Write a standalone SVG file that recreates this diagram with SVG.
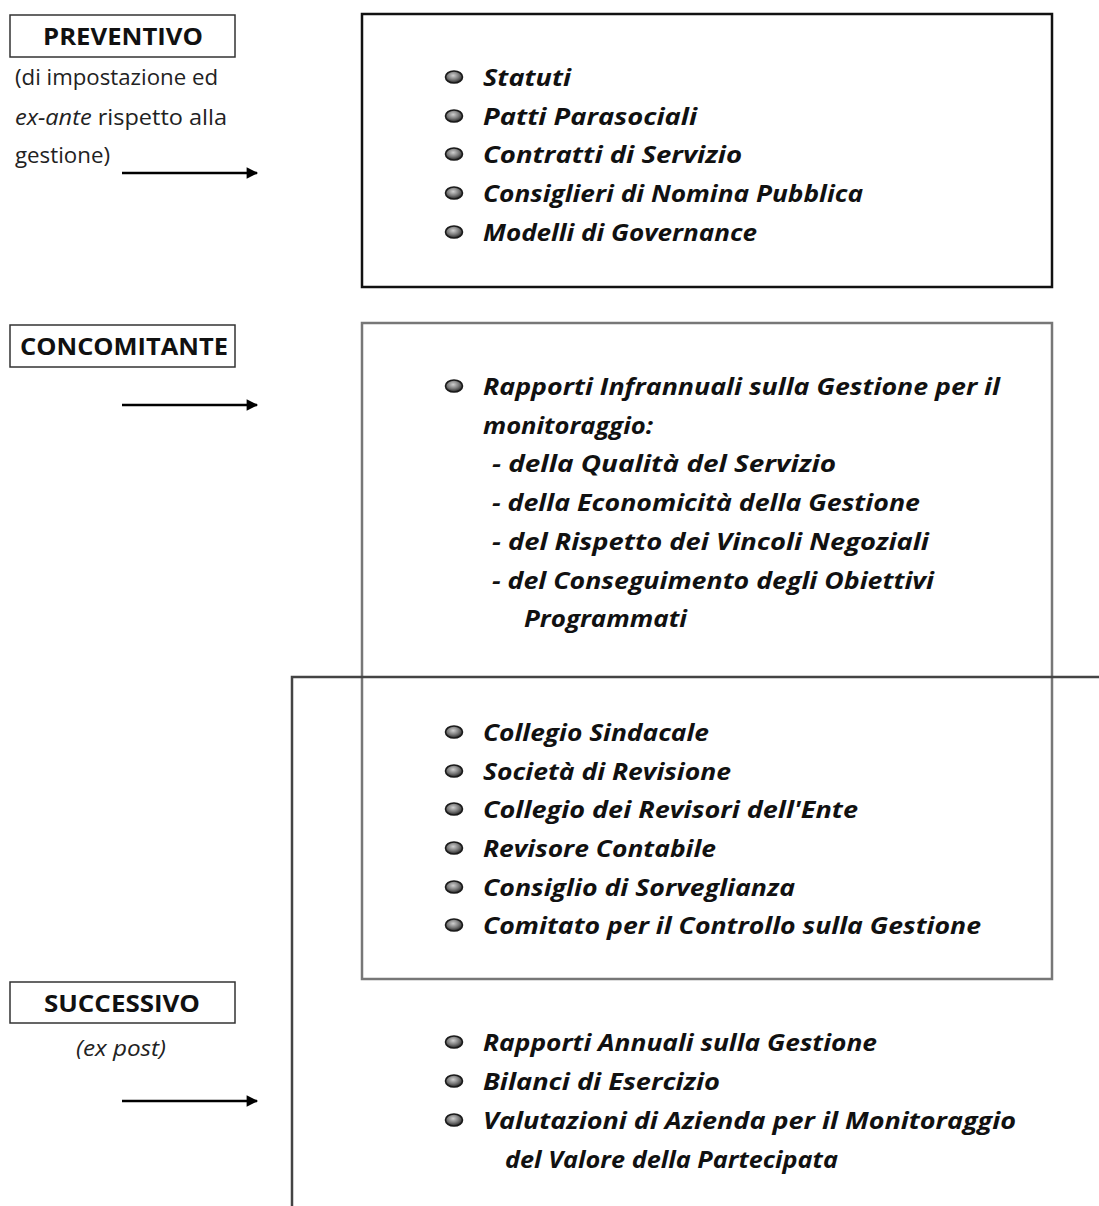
<svg xmlns="http://www.w3.org/2000/svg" width="1099" height="1206" viewBox="0 0 1099 1206">
  <defs>
    <radialGradient id="bulletFill" cx="0.45" cy="0.38" r="0.62">
      <stop offset="0" stop-color="#cfcfcf"/>
      <stop offset="0.55" stop-color="#7a7a7a"/>
      <stop offset="1" stop-color="#262626"/>
    </radialGradient>
    <marker id="arrowHead" viewBox="0 0 10 10" refX="9" refY="5" markerWidth="5.4" markerHeight="4.6" markerUnits="strokeWidth" orient="auto">
      <path d="M0,0 L10,5 L0,10 z" fill="#000"/>
    </marker>
    <ellipse id="bullet" cx="0" cy="0" rx="8.5" ry="6" fill="url(#bulletFill)" stroke="#1a1a1a" stroke-width="1.6"/>
  </defs>
  <style>
    .label { font-family: "Open Sans", "DejaVu Sans", sans-serif; font-size: 23px; font-weight: bold; fill: #111; }
    .note { font-family: "Open Sans", "DejaVu Sans", sans-serif; font-size: 21px; fill: #222; }
    .item { font-family: "Open Sans", "DejaVu Sans", sans-serif; font-size: 24px; font-style: italic; font-weight: bold; fill: #111; }
    .tag { fill: #fff; stroke: #333; stroke-width: 1.5; }
    .frame1 { fill: none; stroke: #111; stroke-width: 2.5; }
    .frame2 { fill: none; stroke: #777; stroke-width: 2.5; }
    .frame3 { fill: none; stroke: #444; stroke-width: 2.5; }
    .arrow { stroke: #000; stroke-width: 2.5; fill: none; marker-end: url(#arrowHead); }
  </style>
  <rect width="1099" height="1206" fill="#fff"/>

  <!-- phase labels -->
  <g id="preventivo">
    <rect class="tag" x="10" y="15" width="225" height="42"/>
    <text class="label" x="43" y="45" textLength="160" lengthAdjust="spacingAndGlyphs">PREVENTIVO</text>
    <text class="note" x="15" y="85" textLength="203" lengthAdjust="spacingAndGlyphs">(di impostazione ed</text>
    <text class="note" x="15" y="125" textLength="212" lengthAdjust="spacingAndGlyphs"><tspan font-style="italic">ex-ante</tspan>  rispetto alla</text>
    <text class="note" x="15" y="163" textLength="95" lengthAdjust="spacingAndGlyphs">gestione)</text>
  </g>
  <g id="concomitante">
    <rect class="tag" x="10" y="325" width="225" height="42"/>
    <text class="label" x="20" y="355" textLength="208" lengthAdjust="spacingAndGlyphs">CONCOMITANTE</text>
  </g>
  <g id="successivo">
    <rect class="tag" x="10" y="982" width="225" height="41"/>
    <text class="label" x="44" y="1012" textLength="156" lengthAdjust="spacingAndGlyphs">SUCCESSIVO</text>
    <text class="note" x="76" y="1056" font-style="italic" textLength="90" lengthAdjust="spacingAndGlyphs">(ex post)</text>
  </g>

  <!-- frames -->
  <g id="frame-preventivo">
    <rect class="frame1" x="362" y="14" width="690" height="273"/>
    <use href="#bullet" x="454" y="77"/>
    <use href="#bullet" x="454" y="116"/>
    <use href="#bullet" x="454" y="154"/>
    <use href="#bullet" x="454" y="193"/>
    <use href="#bullet" x="454" y="232"/>
    <text class="item" x="483" y="86" textLength="88" lengthAdjust="spacingAndGlyphs">Statuti</text>
    <text class="item" x="483" y="125" textLength="214" lengthAdjust="spacingAndGlyphs">Patti Parasociali</text>
    <text class="item" x="483" y="163" textLength="259" lengthAdjust="spacingAndGlyphs">Contratti di Servizio</text>
    <text class="item" x="483" y="202" textLength="380" lengthAdjust="spacingAndGlyphs">Consiglieri di Nomina Pubblica</text>
    <text class="item" x="483" y="241" textLength="274" lengthAdjust="spacingAndGlyphs">Modelli di Governance</text>
  </g>

  <g id="frame-concomitante">
    <rect class="frame2" x="362" y="323" width="690" height="656"/>
    <use href="#bullet" x="454" y="386"/>
    <text class="item" x="483" y="395" textLength="517" lengthAdjust="spacingAndGlyphs">Rapporti Infrannuali sulla Gestione per il</text>
    <text class="item" x="483" y="434" textLength="170" lengthAdjust="spacingAndGlyphs">monitoraggio:</text>
    <text class="item" x="492" y="472" textLength="344" lengthAdjust="spacingAndGlyphs">- della Qualità del Servizio</text>
    <text class="item" x="492" y="511" textLength="428" lengthAdjust="spacingAndGlyphs">- della Economicità della Gestione</text>
    <text class="item" x="492" y="550" textLength="437" lengthAdjust="spacingAndGlyphs">- del Rispetto dei Vincoli Negoziali</text>
    <text class="item" x="492" y="589" textLength="442" lengthAdjust="spacingAndGlyphs">- del Conseguimento degli Obiettivi</text>
    <text class="item" x="524" y="627" textLength="163" lengthAdjust="spacingAndGlyphs">Programmati</text>
  </g>

  <g id="frame-successivo">
    <path class="frame3" d="M1099,677 H292 V1206"/>
    <use href="#bullet" x="454" y="732"/>
    <use href="#bullet" x="454" y="771"/>
    <use href="#bullet" x="454" y="809"/>
    <use href="#bullet" x="454" y="848"/>
    <use href="#bullet" x="454" y="887"/>
    <use href="#bullet" x="454" y="925"/>
    <text class="item" x="483" y="741" textLength="226" lengthAdjust="spacingAndGlyphs">Collegio Sindacale</text>
    <text class="item" x="483" y="780" textLength="248" lengthAdjust="spacingAndGlyphs">Società di Revisione</text>
    <text class="item" x="483" y="818" textLength="375" lengthAdjust="spacingAndGlyphs">Collegio dei Revisori dell'Ente</text>
    <text class="item" x="483" y="857" textLength="233" lengthAdjust="spacingAndGlyphs">Revisore Contabile</text>
    <text class="item" x="483" y="896" textLength="312" lengthAdjust="spacingAndGlyphs">Consiglio di Sorveglianza</text>
    <text class="item" x="483" y="934" textLength="498" lengthAdjust="spacingAndGlyphs">Comitato per il Controllo sulla Gestione</text>
    <use href="#bullet" x="454" y="1042"/>
    <use href="#bullet" x="454" y="1081"/>
    <use href="#bullet" x="454" y="1120"/>
    <text class="item" x="483" y="1051" textLength="394" lengthAdjust="spacingAndGlyphs">Rapporti Annuali sulla Gestione</text>
    <text class="item" x="483" y="1090" textLength="237" lengthAdjust="spacingAndGlyphs">Bilanci di Esercizio</text>
    <text class="item" x="483" y="1129" textLength="533" lengthAdjust="spacingAndGlyphs">Valutazioni di Azienda per il Monitoraggio</text>
    <text class="item" x="505" y="1168" textLength="333" lengthAdjust="spacingAndGlyphs">del Valore della Partecipata</text>
  </g>

  <!-- connectors -->
  <g id="connectors">
    <line class="arrow" x1="122" y1="173" x2="257" y2="173"/>
    <line class="arrow" x1="122" y1="405" x2="257" y2="405"/>
    <line class="arrow" x1="122" y1="1101" x2="257" y2="1101"/>
  </g>
</svg>
